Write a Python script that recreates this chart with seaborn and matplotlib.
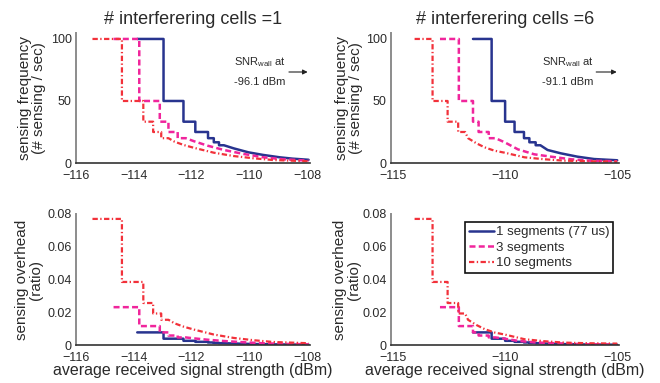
import matplotlib
matplotlib.use("Agg")
import matplotlib.pyplot as plt
import seaborn as sns

# ---------------- data ----------------
# step part: level values start at step_x[i] and hold until step_x[i+1]
# tail part: smooth decay after the visible steps
# --- 1 interfering cell ---
b1_step_x = [-113.88, -112.97, -112.28, -111.87, -111.43, -111.23, -111.05, -110.88]
b1_step_f = [100, 50, 33.3, 25, 20, 16.7, 14.3]
b1_step_o = [0.0077, 0.00385, 0.00256, 0.00193, 0.00154, 0.00129, 0.0011]
b1_tail_x = [-110.54, -110.03, -109.52, -108.95, -108.5, -107.95]
b1_tail_f = [11.8, 8.6, 6.5, 4.6, 3.5, 2.6]
b1_tail_o = [0.00091, 0.00066, 0.0005, 0.00035, 0.00027, 0.0002]

m1_step_x = [-114.70, -113.81, -113.10, -112.80, -112.48, -112.2]
m1_step_f = [100, 50, 33.3, 25, 20]
m1_step_o = [0.0231, 0.01155, 0.0077, 0.00578, 0.00462]
m1_tail_x = [-111.91, -111.45, -110.88, -110.2, -109.52, -108.84, -107.95]
m1_tail_f = [17.5, 14.0, 10.5, 7.3, 4.6, 3.0, 1.9]
m1_tail_o = [0.00404, 0.00323, 0.00243, 0.00169, 0.00106, 0.00069, 0.00044]

r1_step_x = [-115.43, -114.41, -113.67, -113.33, -113.05, -112.8]
r1_step_f = [100, 50, 33.3, 25, 20]
r1_step_o = [0.077, 0.0385, 0.02564, 0.01925, 0.0154]
r1_tail_x = [-112.59, -112.27, -111.91, -111.23, -110.54, -109.86, -109.18, -107.95]
r1_tail_f = [17.2, 14.5, 12.2, 8.3, 5.6, 3.8, 2.4, 1.4]
r1_tail_o = [0.01324, 0.01117, 0.00939, 0.00639, 0.00431, 0.00293, 0.00185, 0.00108]

# --- 6 interfering cells ---
b6_step_x = [-111.45, -110.62, -110.02, -109.6, -109.18, -108.94, -108.66, -108.45]
b6_step_f = [100, 50, 33.3, 25, 20, 16.7, 14.3]
b6_step_o = [0.0077, 0.00385, 0.00256, 0.00193, 0.00154, 0.00129, 0.0011]
b6_tail_x = [-108.13, -107.54, -106.8, -106.06, -105.03]
b6_tail_f = [10.5, 7.8, 5.1, 3.2, 2.2]
b6_tail_o = [0.00081, 0.0006, 0.00039, 0.00025, 0.00017]

m6_step_x = [-112.92, -112.08, -111.45, -111.2, -110.75, -110.45]
m6_step_f = [100, 50, 33.3, 25, 20]
m6_step_o = [0.0231, 0.01155, 0.0077, 0.00578, 0.00462]
m6_tail_x = [-110.04, -109.45, -108.72, -107.98, -107.09, -106.2, -105.03]
m6_tail_f = [16.7, 11.0, 7.0, 5.1, 3.0, 1.8, 1.4]
m6_tail_o = [0.00386, 0.00254, 0.00162, 0.00118, 0.00069, 0.00042, 0.00032]

r6_step_x = [-114.05, -113.25, -112.58, -112.11, -111.8]
r6_step_f = [100, 50, 33.3, 25]
r6_step_o = [0.077, 0.0385, 0.02564, 0.01925]
r6_tail_x = [-111.67, -111.3, -110.93, -110.49, -110.04, -109.16, -108.27, -107.39, -106.36, -105.03]
r6_tail_f = [20, 15.9, 12.6, 9.9, 8.3, 4.6, 3.0, 1.9, 1.4, 1.1]
r6_tail_o = [0.0154, 0.01224, 0.0097, 0.00762, 0.00639, 0.00354, 0.00231, 0.00146, 0.00108, 0.00085]

series_labels = ["1 segments (77 us)", "3 segments", "10 segments"]
titles = ["# interferering cells =1", "# interferering cells =6"]
snr_wall = ["-96.1 dBm", "-91.1 dBm"]
freq_ticks = [0, 50, 100]
freq_ticklabels = ["0", "50", "100"]
ovh_ticks = [0, 0.02, 0.04, 0.06, 0.08]
ovh_ticklabels = ["0", "0.02", "0.04", "0.06", "0.08"]
xticks_left = [-116, -114, -112, -110, -108]
xticks_right = [-115, -110, -105]

# ---------------- style ----------------
sns.set_theme(style="white")
plt.rcParams["font.family"] = ["Liberation Sans", "DejaVu Sans"]
plt.rcParams["mathtext.fontset"] = "custom"
plt.rcParams["mathtext.rm"] = "Liberation Sans"
plt.rcParams["mathtext.it"] = "Liberation Sans:italic"

BLUE = "#28348f"
MAGENTA = "#f0259c"
RED = "#f2313a"
TXT = "#2a2a2a"
styles = [dict(color=BLUE, linestyle="-", lw=1.8),
          dict(color=MAGENTA, linestyle=(0, (2.4, 1.3)), lw=1.8),
          dict(color=RED, linestyle=(0, (2.4, 1.1, 0.6, 1.1)), lw=1.6)]


def polyline(step_x, step_v, tail_x, tail_v):
    xs, ys = [], []
    for i, v in enumerate(step_v):
        xs += [step_x[i], step_x[i + 1]]
        ys += [v, v]
    xs += list(tail_x)
    ys += list(tail_v)
    return xs, ys


def tick_text(v):
    return str(v).replace("-", "\u2212")


fig = plt.figure(figsize=(6.6, 3.83), dpi=100)
W, H = 660.0, 383.0
ax_tl = fig.add_axes([76 / W, (H - 163) / H, 234 / W, 130 / H])
ax_tr = fig.add_axes([391 / W, (H - 163) / H, 228 / W, 130 / H])
ax_bl = fig.add_axes([76 / W, (H - 345) / H, 234 / W, 131 / H])
ax_br = fig.add_axes([391 / W, (H - 345) / H, 228 / W, 131 / H])

left_series = [
    (b1_step_x, b1_step_f, b1_step_o, b1_tail_x, b1_tail_f, b1_tail_o),
    (m1_step_x, m1_step_f, m1_step_o, m1_tail_x, m1_tail_f, m1_tail_o),
    (r1_step_x, r1_step_f, r1_step_o, r1_tail_x, r1_tail_f, r1_tail_o),
]
right_series = [
    (b6_step_x, b6_step_f, b6_step_o, b6_tail_x, b6_tail_f, b6_tail_o),
    (m6_step_x, m6_step_f, m6_step_o, m6_tail_x, m6_tail_f, m6_tail_o),
    (r6_step_x, r6_step_f, r6_step_o, r6_tail_x, r6_tail_f, r6_tail_o),
]

for (ax_f, ax_o, series) in [(ax_tl, ax_bl, left_series), (ax_tr, ax_br, right_series)]:
    for k, (sx, sf, so, tx, tf, to) in enumerate(series):
        xs, ys = polyline(sx, sf, tx, tf)
        sns.lineplot(x=xs, y=ys, ax=ax_f, sort=False, estimator=None,
                     label=series_labels[k], **styles[k])
        xs, ys = polyline(sx, so, tx, to)
        sns.lineplot(x=xs, y=ys, ax=ax_o, sort=False, estimator=None,
                     label=series_labels[k], **styles[k])

for ax in [ax_tl, ax_tr, ax_bl, ax_br]:
    leg = ax.get_legend()
    if leg is not None:
        leg.remove()
    ax.spines["top"].set_visible(False)
    ax.spines["right"].set_visible(False)
    ax.spines["left"].set_color("#8c8c8c")
    ax.spines["left"].set_linewidth(1.4)
    ax.spines["bottom"].set_color("#333333")
    ax.spines["bottom"].set_linewidth(1.2)
    ax.tick_params(axis="both", direction="in", length=3, width=0.8,
                   colors="#444444", labelsize=9, labelcolor=TXT)
    ax.tick_params(axis="x", pad=5)
    ax.tick_params(axis="y", pad=3)
    ax.set_xlabel("")
    ax.set_ylabel("")

for ax in [ax_tl, ax_bl]:
    ax.set_xlim(-116, -107.9)
    ax.set_xticks(xticks_left)
    ax.set_xticklabels([tick_text(t) for t in xticks_left])
for ax in [ax_tr, ax_br]:
    ax.set_xlim(-115.1, -104.95)
    ax.set_xticks(xticks_right)
    ax.set_xticklabels([tick_text(t) for t in xticks_right])

for ax, xl in [(ax_tl, -0.128), (ax_tr, -0.121)]:
    ax.set_ylim(0, 104.8)
    ax.set_yticks(freq_ticks)
    ax.set_yticklabels(freq_ticklabels)
    ax.set_ylabel("sensing frequency\n(# sensing / sec)", fontsize=11,
                  color=TXT, linespacing=1.0)
    ax.yaxis.set_label_coords(xl, 0.5)

for ax, xl in [(ax_bl, -0.142), (ax_br, -0.133)]:
    ax.set_ylim(0, 0.08)
    ax.set_yticks(ovh_ticks)
    ax.set_yticklabels(ovh_ticklabels)
    ax.set_ylabel("sensing overhead\n(ratio)", fontsize=11, color=TXT,
                  linespacing=1.0)
    ax.yaxis.set_label_coords(xl, 0.5)
    ax.set_xlabel("average received signal strength (dBm)", fontsize=11.5,
                  color=TXT)
    ax.xaxis.set_label_coords(0.5, -0.14)

for ax, t in [(ax_tl, titles[0]), (ax_tr, titles[1])]:
    ax.set_title(t, fontsize=13, color=TXT, pad=6.5)

# SNR wall annotations
for ax, txt, x0, a0, a1 in [(ax_tl, snr_wall[0], 0.675, 0.91, 0.99),
                            (ax_tr, snr_wall[1], 0.661, 0.90, 0.99)]:
    ax.text(x0, 0.755, r"SNR$_{\mathrm{wall}}$ at", transform=ax.transAxes,
            fontsize=8, color=TXT, ha="left", va="baseline")
    ax.text(x0, 0.60, txt, transform=ax.transAxes, fontsize=8, color=TXT,
            ha="left", va="baseline")
    ax.annotate("", xy=(a1, 0.70), xytext=(a0, 0.70), xycoords="axes fraction",
                textcoords="axes fraction",
                arrowprops=dict(arrowstyle="-|>", color="#222222", lw=0.8,
                                mutation_scale=7, shrinkA=0, shrinkB=0))

# legend in lower-right panel
handles, labels = ax_br.get_lines()[:3], series_labels
leg = ax_br.legend(handles, labels, loc="upper right",
                   bbox_to_anchor=(0.974, 0.939), borderaxespad=0,
                   fontsize=9.5, frameon=True, fancybox=False, framealpha=1,
                   edgecolor="#111111", handlelength=1.9, handletextpad=0.15,
                   labelspacing=0.25, borderpad=0.3)
leg.get_frame().set_linewidth(1.2)
for t in leg.get_texts():
    t.set_color(TXT)

fig.savefig("out.png", dpi=100)
